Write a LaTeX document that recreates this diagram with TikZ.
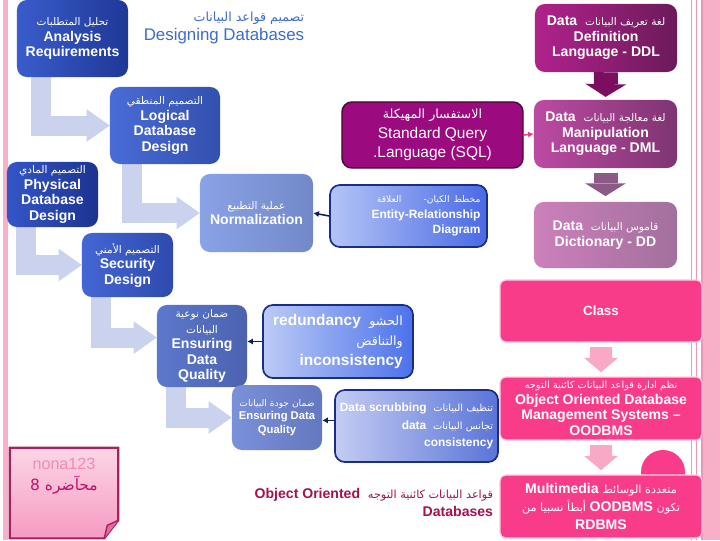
\documentclass[tikz,border=0pt]{standalone}
\usepackage{fontspec}
\setmainfont{Liberation Sans}
\newfontfamily\arabicfont[Script=Arabic]{DejaVu Sans}
\TeXXeTstate=1
\usetikzlibrary{arrows.meta,positioning,calc,backgrounds}

\definecolor{navyA}{HTML}{1E3896}
\definecolor{navyB}{HTML}{3A5CCC}
\definecolor{physA}{HTML}{1C3390}
\definecolor{physB}{HTML}{3556C8}
\definecolor{logA}{HTML}{3250AE}
\definecolor{logB}{HTML}{4A6CD6}
\definecolor{secA}{HTML}{2E4AAE}
\definecolor{secB}{HTML}{4466D4}
\definecolor{normA}{HTML}{7288C8}
\definecolor{normB}{HTML}{8AA2E6}
\definecolor{dqA}{HTML}{4C62B0}
\definecolor{dqB}{HTML}{5C78CC}
\definecolor{dqC}{HTML}{6478C0}
\definecolor{dqD}{HTML}{7A90D8}
\definecolor{sqlfill}{HTML}{9C0A80}
\definecolor{sqledge}{HTML}{4A0838}
\definecolor{erA}{HTML}{B4C4F6}
\definecolor{erB}{HTML}{4A6AE4}
\definecolor{blueedge}{HTML}{1A2E86}
\definecolor{redA}{HTML}{BCCBF6}
\definecolor{redB}{HTML}{4C72EA}
\definecolor{scrA}{HTML}{C4CCF2}
\definecolor{scrB}{HTML}{5A74D8}
\definecolor{ddlA}{HTML}{B0228C}
\definecolor{ddlB}{HTML}{6C1A5A}
\definecolor{dmlA}{HTML}{BC4AA2}
\definecolor{dmlB}{HTML}{7E3472}
\definecolor{ddA}{HTML}{CC80BC}
\definecolor{ddB}{HTML}{A2709C}
\definecolor{hotpink}{HTML}{F93C8A}
\definecolor{pinkedge}{HTML}{FFD0E2}
\definecolor{pinkarr}{HTML}{F9A9C6}
\definecolor{arrowddl}{HTML}{7C0E62}
\definecolor{arrowdml}{HTML}{8C5A86}
\definecolor{lavender}{HTML}{CAD2EE}
\definecolor{barpink}{HTML}{F8B0C8}
\definecolor{stripe}{HTML}{EE98B8}
\definecolor{notelight}{HTML}{FBD6E6}
\definecolor{notedark}{HTML}{F79AC2}
\definecolor{noteedge}{HTML}{A8205E}
\definecolor{notefold}{HTML}{E86AA2}
\definecolor{notename}{HTML}{F08CB6}
\definecolor{notenum}{HTML}{C0106A}
\definecolor{linknavy}{HTML}{0E1E5A}
\definecolor{linkpink}{HTML}{E8408A}
\definecolor{titleblue}{HTML}{3C6CD0}
\definecolor{oodbred}{HTML}{A3124E}

\newcommand{\artxt}[2][7.5]{{\arabicfont\mdseries\fontsize{#1}{#1}\selectfont\beginR #2\endR}}

\begin{document}
\begin{tikzpicture}[x=0.025cm, y=-0.025cm,
    box/.style={rounded corners=7pt, text=white, align=center, inner sep=1pt,
        font=\bfseries\fontsize{10}{11}\selectfont},
    pinkbox/.style={box, rounded corners=4pt, fill=hotpink, draw=pinkedge, line width=0.8pt,
        minimum width=5.05cm, minimum height=1.575cm},
    flow/.style={draw=lavender, line width=0.5cm, line join=miter,
        -{Triangle[width=0.82cm,length=0.58cm,line width=0pt]}},
    blockarrow/.style={line width=0.6cm, -{Triangle[width=1.02cm,length=0.32cm,line width=0pt]}},
    pinkarrow/.style={draw=pinkarr, line width=0.55cm, shorten <=3pt, shorten >=3pt,
        -{Triangle[width=0.85cm,length=0.36cm,line width=0pt]}},
    link/.style={-{Latex[length=4pt,width=4.5pt]}, line width=1.1pt, draw=linknavy}
]
\useasboundingbox (0,0) rectangle (720,540);
\begin{scope}[on background layer]
  \fill[white] (0,0) rectangle (720,540);
  \fill[barpink] (3,0) rectangle (8,540);
  \fill[barpink] (703,0) rectangle (720,540);
  \draw[stripe, line width=0.7pt] (691,0) -- (691,540);
  \draw[stripe, line width=0.7pt] (696,0) -- (696,540);
  \draw[stripe, line width=1pt] (702,0) -- (702,540);
\end{scope}

% title
\node[align=right, text=titleblue, font=\fontsize{12}{14}\selectfont] (title) at (224,28)
  {\artxt[9]{تصميم قواعد البيانات}\\Designing Databases};

% design steps (blue)
\node[box, minimum width=2.775cm, minimum height=1.925cm, left color=navyB, right color=navyA] (ana) at (72.5,38.5)
  {\artxt{تحليل المتطلبات}\\Analysis\\Requirements};
\node[box, minimum width=2.75cm, minimum height=1.925cm, left color=logB, right color=logA] (logic) at (165,125.5)
  {\artxt{التصميم المنطقي}\\Logical\\Database\\Design};
\node[box, minimum width=2.275cm, minimum height=1.625cm, left color=physB, right color=physA] (phys) at (52.5,194.5)
  {\artxt{التصميم المادي}\\Physical\\Database\\Design};
\node[box, minimum width=2.825cm, minimum height=1.95cm, left color=normB, right color=normA] (norm) at (256.5,213)
  {\artxt{عملية التطبيع}\\Normalization};
\node[box, minimum width=2.275cm, minimum height=1.6cm, left color=secB, right color=secA] (sec) at (127.5,265)
  {\artxt{التصميم الأمني}\\Security\\Design};
\node[box, minimum width=2.25cm, minimum height=2.05cm, left color=dqB, right color=dqA] (dq1) at (202,346)
  {\artxt{ضمان نوعية}\\\artxt{البيانات}\\Ensuring\\Data\\Quality};
\node[box, minimum width=2.25cm, minimum height=1.625cm, left color=dqD, right color=dqC,
  font=\bfseries\fontsize{8}{9.6}\selectfont] (dq2) at (277,417.5)
  {\artxt[6.5]{ضمان جودة البيانات}\\Ensuring Data\\Quality};

% sources (outlined)
\node[box, minimum width=4.525cm, minimum height=1.65cm, fill=sqlfill, draw=sqledge, line width=1pt,
  font=\fontsize{11}{14}\selectfont] (sql) at (432.5,135)
  {\artxt[9]{الاستفسار المهيكلة}\\Standard Query\\.Language (SQL)};
\node[box, minimum width=3.925cm, minimum height=1.55cm, left color=erA, right color=erB, draw=blueedge,
  line width=1.2pt, text width=3.6cm, align=right, font=\bfseries\fontsize{8.5}{11}\selectfont] (er) at (408.5,216)
  {\artxt[6.5]{مخطط الكيان- \quad\quad العلاقة}\\Entity-Relationship\\Diagram};
\node[box, minimum width=3.75cm, minimum height=1.825cm, left color=redA, right color=redB, draw=blueedge,
  line width=1.2pt, align=right, font=\bfseries\fontsize{11}{14}\selectfont] (red) at (338,341.5)
  {redundancy\ \ \artxt[9]{الحشو}\\\artxt[9]{والتناقض}\\inconsistency};
\node[box, minimum width=4.075cm, minimum height=1.8cm, left color=scrA, right color=scrB, draw=blueedge,
  line width=1.2pt, align=right, font=\bfseries\fontsize{8.5}{12.4}\selectfont] (scrub) at (416.5,426)
  {Data scrubbing\ \ \artxt[7]{تنظيف البيانات}\\data\ \ \artxt[7]{تجانس البيانات}\\consistency};

% languages (purple)
\node[box, minimum width=3.55cm, minimum height=1.7cm, left color=ddlA, right color=ddlB] (ddl) at (606,38)
  {Data\ \ \artxt{لغة تعريف البيانات}\\Definition\\Language - DDL};
\node[box, minimum width=3.575cm, minimum height=1.7cm, left color=dmlA, right color=dmlB] (dml) at (605.5,134)
  {Data\ \ \artxt{لغة معالجة البيانات}\\Manipulation\\Language - DML};
\node[box, minimum width=3.575cm, minimum height=1.65cm, left color=ddA, right color=ddB] (dd) at (605.5,235)
  {Data\ \ \artxt{قاموس البيانات}\\Dictionary - DD};

% object oriented (pink)
\node[pinkbox, minimum height=1.55cm, font=\bfseries\fontsize{9.5}{11}\selectfont] (cls) at (601,311) {Class};
\node[pinkbox] (oodbms) at (601,408.5)
  {\artxt[7]{نظم ادارة قواعد البيانات كائنية التوجه}\\Object Oriented Database\\Management Systems \textendash\\OODBMS};
\node[pinkbox, font=\bfseries\fontsize{10}{13}\selectfont] (multi) at (601,506.5)
  {Multimedia\ \artxt[8]{متعددة الوسائط}\\\artxt[8]{تكون \beginL{\rmfamily\bfseries\fontsize{10}{12}\selectfont OODBMS}\endL{} أبطأ نسبيا من}\\RDBMS};
\node[anchor=east, align=right, text=oodbred, font=\bfseries\fontsize{10}{12.8}\selectfont] (oodb) at (498,502)
  {Object Oriented\ \ \artxt[8]{قواعد البيانات كائنية التوجه}\\Databases};

% lecture note
\node[minimum width=2.7cm, minimum height=2.25cm] (note) at (64,493) {};
\shadedraw[top color=notelight, bottom color=notedark, draw=noteedge, line width=1.5pt]
  (note.north west) -- (note.north east) -- ($(note.south east)+(0,-18)$)
  -- ($(note.south east)+(-14,0)$) -- (note.south west) -- cycle;
\filldraw[fill=notefold, draw=noteedge, line width=1pt, line join=round]
  ($(note.south east)+(0,-18)$) -- ($(note.south east)+(-11,-13)$) -- ($(note.south east)+(-14,0)$);
\node[align=center, font=\fontsize{11.5}{15}\selectfont, below=4pt of note.north] (notetext)
  {\textcolor{notename}{nona123}\\\textcolor{notenum}{\artxt[11]{محآضره 8}}};

% flow between design steps
\begin{scope}[on background layer]
  \fill[hotpink] (663,472) circle[radius=0.55cm];
  \draw[flow] ($(ana.south west)+(24,0)$) |- (logic.west);
  \draw[flow] ($(logic.south west)+(22.5,0)$) |- (norm.west);
  \draw[flow] ($(phys.south west)+(19,0)$) |- (sec.west);
  \draw[flow] ($(sec.south west)+(19,0)$) |- ([yshift=6pt]dq1.west);
  \draw[flow] ($(dq1.south west)+(19,0)$) |- (dq2.west);
\end{scope}

\draw[blockarrow, draw=arrowddl, shorten >=2pt] (ddl.south) -- (dml.north);
\draw[blockarrow, draw=arrowdml, shorten <=3pt, shorten >=4pt] (dml.south) -- (dd.north);
\draw[pinkarrow] (cls.south) -- (oodbms.north);
\draw[pinkarrow] (oodbms.south) -- (multi.north);

\draw[link] (er.west) -- (norm.east);
\draw[link, draw=linkpink] (sql.east) -- (dml.west);
\draw[link] (red.west) -- (red.west -| dq1.east);
\draw[link] ([yshift=4pt]scrub.west) -- ([yshift=4pt]scrub.west -| dq2.east);
\end{tikzpicture}
\end{document}
